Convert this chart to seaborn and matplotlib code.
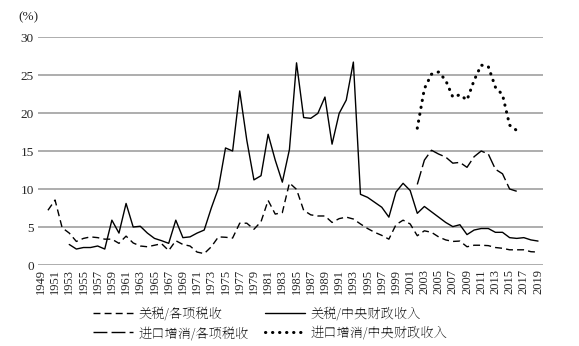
import numpy as np
import pandas as pd
import matplotlib
matplotlib.use("Agg")
import matplotlib.pyplot as plt
import seaborn as sns

# 关税/各项税收, 1950-2019
tariff_tax_years = list(range(1950, 2020))
tariff_tax = [7.2, 8.55, 4.9, 4.2, 3.1, 3.5, 3.7, 3.6, 3.4, 3.4,
              2.85, 3.8, 2.9, 2.5, 2.4, 2.6, 2.8, 1.9, 3.2, 2.7,
              2.5, 1.7, 1.5, 2.4, 3.7, 3.65, 3.55, 5.5, 5.5, 4.7,
              5.7, 8.5, 6.7, 6.9, 10.8, 9.95, 7.2, 6.6, 6.45, 6.45,
              5.6, 6.1, 6.3, 6.05, 5.4, 4.8, 4.3, 3.9, 3.4, 5.3,
              5.9, 5.4, 3.85, 4.5, 4.3, 3.7, 3.3, 3.1, 3.15, 2.4,
              2.6, 2.6, 2.55, 2.3, 2.2, 2.0, 2.0, 2.0, 1.75, 1.7]

# 关税/中央财政收入, 1953-2019
tariff_central_years = list(range(1953, 2020))
tariff_central = [2.7, 2.1, 2.3, 2.3, 2.5, 2.1, 5.9, 4.2, 8.1, 5.0,
                  5.1, 4.2, 3.5, 3.2, 2.85, 5.9, 3.6, 3.7, 4.2, 4.6,
                  7.5, 10.1, 15.4, 15.0, 22.9, 16.4, 11.2, 11.75, 17.2, 13.8,
                  10.9, 15.2, 26.6, 19.4, 19.3, 19.95, 22.1, 15.9, 19.95, 21.7,
                  26.7, 9.3, 8.9, 8.25, 7.6, 6.3, 9.6, 10.75, 9.8, 6.8,
                  7.7, 7.0, 6.3, 5.6, 5.05, 5.3, 4.0, 4.6, 4.8, 4.8,
                  4.3, 4.3, 3.6, 3.5, 3.6, 3.3, 3.15]

# 进口增消, 2002-2016
import_years = list(range(2002, 2017))
import_tax = [10.6, 13.8, 15.1, 14.6, 14.2, 13.4, 13.5, 12.85, 14.25, 15.0,
              14.6, 12.6, 12.0, 10.0, 9.7]
import_central = [18.0, 23.2, 25.1, 25.4, 24.3, 22.1, 22.4, 21.7, 24.3, 26.3,
                  26.1, 23.4, 22.4, 18.4, 17.7]

year_ticks = list(range(1949, 2020, 2))
y_ticks = [0, 5, 10, 15, 20, 25, 30]

sns.set_theme(style="white")
SERIF = ["Liberation Serif", "DejaVu Serif"]
CJK = ["Noto Serif SC", "Noto Serif CJK JP", "Liberation Serif", "DejaVu Sans"]
plt.rcParams["font.family"] = SERIF + CJK

fig = plt.figure(figsize=(5.79, 3.46), dpi=100)
ax = fig.add_axes([38 / 579, 1 - 265 / 346, (543 - 38) / 579, (265 - 37) / 346])

df_a = pd.DataFrame({"year": tariff_tax_years, "v": tariff_tax})
df_b = pd.DataFrame({"year": tariff_central_years, "v": tariff_central})
df_c = pd.DataFrame({"year": import_years, "v": import_tax})
df_d = pd.DataFrame({"year": import_years, "v": import_central})

sns.lineplot(data=df_a, x="year", y="v", ax=ax, color="black", lw=1.0,
             label="关税/各项税收")
ax.lines[-1].set_dashes((5, 3))
sns.lineplot(data=df_b, x="year", y="v", ax=ax, color="black", lw=1.0,
             label="关税/中央财政收入")
sns.lineplot(data=df_c, x="year", y="v", ax=ax, color="black", lw=1.0,
             label="进口增消/各项税收")
ax.lines[-1].set_dashes((10, 3))
sns.lineplot(data=df_d, x="year", y="v", ax=ax, color="black", lw=2.2,
             label="进口增消/中央财政收入")
ax.lines[-1].set_dashes((0.1, 2.2))
ax.lines[-1].set_dash_capstyle("round")

ax.set_xlim(1948.6, 2019.7)
ax.set_ylim(0, 30)
ax.set_yticks(y_ticks)
ax.set_xticks(year_ticks)
ax.set_xticklabels([str(y) for y in year_ticks], rotation=90,
                   fontsize=9, family=SERIF)
ax.set_yticklabels([str(t) for t in y_ticks], fontsize=9.5, family=SERIF)
ax.tick_params(axis="both", length=0, pad=3)
ax.set_xlabel("")
ax.set_ylabel("")
for s in ["left", "right", "top", "bottom"]:
    ax.spines[s].set_visible(False)
for t in y_ticks:
    ax.axhline(t, color="#a0a0a0", lw=1.2, zorder=0)

fig.text(18 / 579, 1 - 17 / 346, "(%)", fontsize=9.5, va="center",
         ha="left", family=SERIF)

handles, labels = ax.get_legend_handles_labels()
order = [0, 2, 1, 3]
ax.legend([handles[i] for i in order], [labels[i] for i in order],
          ncol=2, loc="upper left", bbox_to_anchor=(88 / 579, 1 - 301 / 346),
          bbox_transform=fig.transFigure, frameon=False,
          handlelength=3.0, handletextpad=0.45, columnspacing=1.2,
          labelspacing=0.45, borderaxespad=0,
          prop={"family": CJK, "size": 9.5})

fig.savefig("out.png", dpi=100)
